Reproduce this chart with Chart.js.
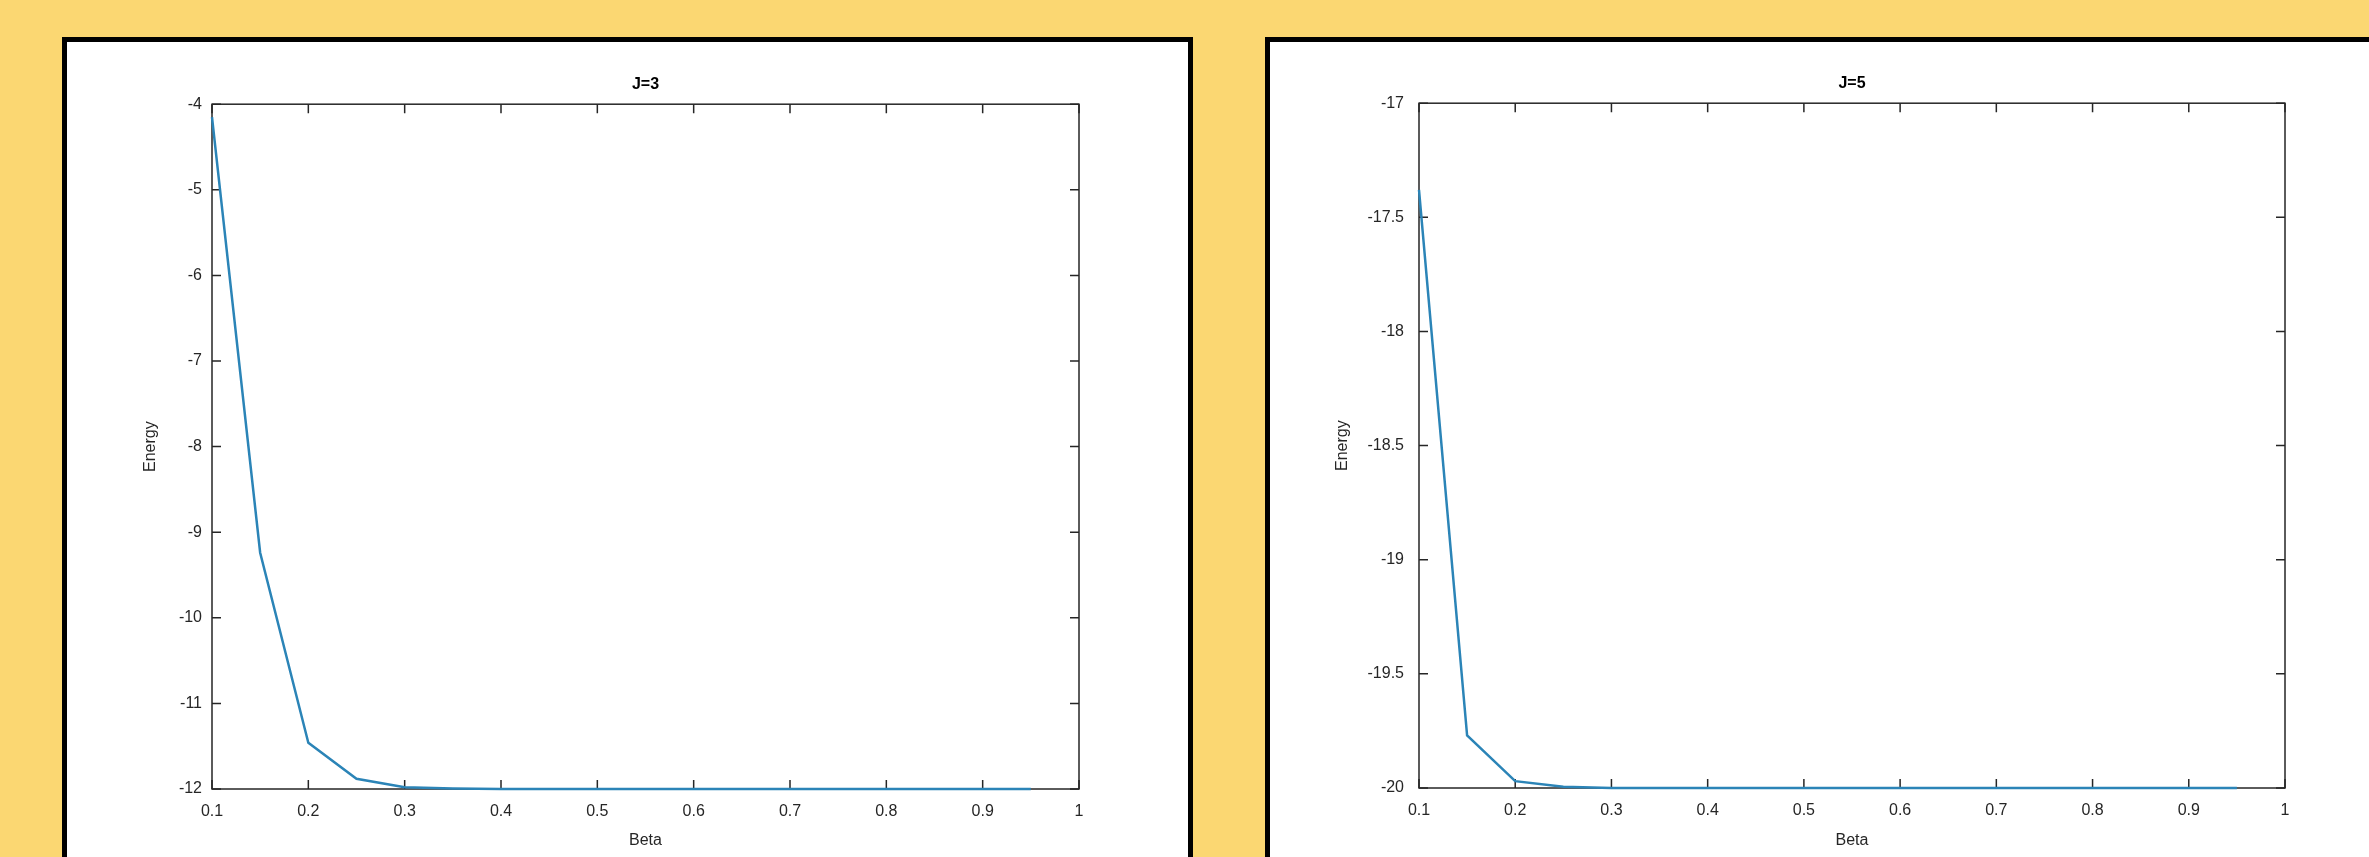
<!DOCTYPE html>
<html>
<head>
<meta charset="utf-8">
<script src="https://cdn.jsdelivr.net/npm/chart.js@4.4.1/dist/chart.umd.min.js"></script>
<style>
  html, body { margin: 0; padding: 0; }
  body { width: 2369px; height: 857px; overflow: hidden; background: #fbd772; position: relative; }
  .panel { position: absolute; top: 37px; height: 900px; background: #fff; border: 5px solid #000; box-sizing: border-box; }
  #panel-j3 { left: 62px; width: 1131px; }
  #panel-j5 { left: 1265px; width: 1200px; }
  canvas { position: absolute; }
  #chart-j3 { left: 100px; top: 40px; }
  #chart-j5 { left: 1306px; top: 40px; }
</style>
</head>
<body>
<div class="panel" id="panel-j3"></div>
<div class="panel" id="panel-j5"></div>
<canvas id="chart-j3" width="1050" height="817"></canvas>
<canvas id="chart-j5" width="1063" height="817"></canvas>
<script>
// valores
const betaValues = [0.1, 0.15, 0.2, 0.25, 0.3, 0.35, 0.4, 0.45, 0.5, 0.55, 0.6, 0.65, 0.7, 0.75, 0.8, 0.85, 0.9, 0.95];
const energyJ3 = [-4.15, -9.24, -11.46, -11.88, -11.98, -11.995, -12, -12, -12, -12, -12, -12, -12, -12, -12, -12, -12, -12];
const energyJ5 = [-17.38, -19.77, -19.97, -19.995, -20, -20, -20, -20, -20, -20, -20, -20, -20, -20, -20, -20, -20, -20];
const xTicks = [0.1, 0.2, 0.3, 0.4, 0.5, 0.6, 0.7, 0.8, 0.9, 1];
const yTicksJ3 = [-12, -11, -10, -9, -8, -7, -6, -5, -4];
const yTicksJ5 = [-20, -19.5, -19, -18.5, -18, -17.5, -17];

const lineColor = "#2b84b7";
const axisColor = "#262626";

Chart.defaults.font.family = "'Liberation Sans', Arial, sans-serif";
Chart.defaults.font.size = 16;
Chart.defaults.color = axisColor;

// caja estilo matlab con marcas hacia adentro
const boxTicks = {
  id: "boxTicks",
  beforeDatasetsDraw(chart) {
    const {ctx, chartArea: a, scales} = chart;
    const len = 9;
    ctx.save();
    ctx.strokeStyle = axisColor;
    ctx.lineWidth = 1.5;
    ctx.strokeRect(a.left, a.top, a.right - a.left, a.bottom - a.top);
    ctx.beginPath();
    scales.x.ticks.forEach(t => {
      const px = scales.x.getPixelForValue(t.value);
      ctx.moveTo(px, a.bottom); ctx.lineTo(px, a.bottom - len);
      ctx.moveTo(px, a.top); ctx.lineTo(px, a.top + len);
    });
    scales.y.ticks.forEach(t => {
      const py = scales.y.getPixelForValue(t.value);
      ctx.moveTo(a.left, py); ctx.lineTo(a.left + len, py);
      ctx.moveTo(a.right, py); ctx.lineTo(a.right - len, py);
    });
    ctx.stroke();
    ctx.restore();
  }
};

const makeChart = (canvasId, title, energy, yTicks, opts) => {
  const points = betaValues.map((b, i) => ({x: b, y: energy[i]}));
  return new Chart(document.getElementById(canvasId), {
    type: "line",
    data: {
      datasets: [{
        data: points,
        borderColor: lineColor,
        borderWidth: 2.5,
        pointRadius: 0,
        tension: 0,
        fill: false,
        clip: 6
      }]
    },
    options: {
      responsive: false,
      animation: false,
      devicePixelRatio: 1,
      layout: {padding: {top: opts.padTop, left: 0, right: opts.padRight, bottom: 0}},
      plugins: {
        legend: {display: false},
        tooltip: {enabled: false},
        title: {
          display: true,
          text: title,
          color: "#000",
          fullSize: false,
          font: {size: 16, weight: "bold"},
          padding: {top: 0, bottom: 10}
        }
      },
      scales: {
        x: {
          type: "linear",
          min: 0.1,
          max: 1,
          afterBuildTicks: s => { s.ticks = xTicks.map(v => ({value: v})); },
          afterFit: s => { s.height = opts.xHeight; },
          grid: {display: false, drawTicks: false},
          border: {display: false},
          ticks: {padding: 13, callback: v => String(+v.toFixed(2))},
          title: {display: true, text: "Beta", padding: {top: 0, bottom: 7}}
        },
        y: {
          type: "linear",
          min: yTicks[0],
          max: yTicks[yTicks.length - 1],
          afterBuildTicks: s => { s.ticks = yTicks.map(v => ({value: v})); },
          afterFit: s => { s.width = opts.yWidth; },
          grid: {display: false, drawTicks: false},
          border: {display: false},
          ticks: {padding: opts.yPad, callback: v => String(v)},
          title: {display: true, text: "Energy", padding: {top: opts.yTitlePad, bottom: 0}}
        }
      }
    },
    plugins: [boxTicks]
  });
};

makeChart("chart-j3", "J=3", energyJ3, yTicksJ3, {padTop: 35, padRight: 71, xHeight: 68, yWidth: 112, yPad: 10, yTitlePad: 41});
makeChart("chart-j5", "J=5", energyJ5, yTicksJ5, {padTop: 34, padRight: 84, xHeight: 69, yWidth: 113, yPad: 15, yTitlePad: 27});
</script>
</body>
</html>
